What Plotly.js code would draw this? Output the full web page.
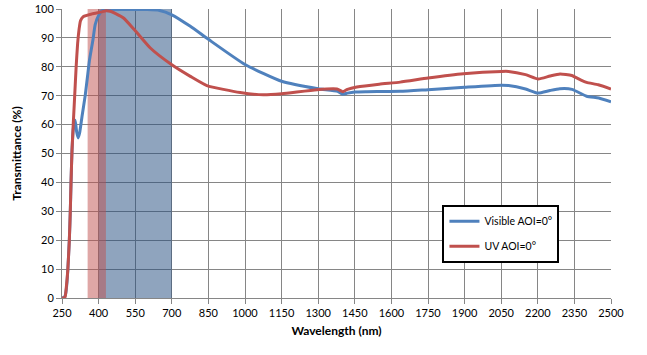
<!DOCTYPE html>
<html>
<head>
<meta charset="utf-8">
<script src="https://cdn.plot.ly/plotly-3.0.1.min.js"></script>
<style>html,body{margin:0;padding:0;background:#fff;}#chart{width:647px;height:355px;}</style>
</head>
<body>
<div id="chart"></div>
<script>
// Visible AOI=0° (blue)
const visWavelength = [250, 260, 265, 270, 274, 280, 284, 287, 291, 297, 304, 310, 316, 322, 332, 345, 355, 363, 370, 377, 386, 400, 414, 430, 500, 600, 650, 700, 776, 850, 1000, 1150, 1300, 1380, 1400, 1420, 1450, 1500, 1636, 1750, 1900, 2050, 2080, 2150, 2200, 2250, 2290, 2340, 2400, 2450, 2500];
const visTransmittance = [0, 0.3, 1.5, 5, 10, 20, 30, 40, 51, 59, 61.5, 57.5, 55.4, 57, 62.8, 70, 77, 82.5, 86, 89.4, 94.6, 97.8, 99.4, 99.7, 99.8, 99.8, 99.5, 98, 94, 89.5, 80.8, 75, 72.4, 71.5, 70.5, 70.9, 71.3, 71.4, 71.5, 72.1, 72.9, 73.6, 73.5, 72.3, 70.9, 71.8, 72.4, 72.2, 69.8, 69.2, 67.9];

// UV AOI=0° (red)
const uvWavelength = [250, 258, 263, 268, 274, 280, 284, 287, 291, 296, 302, 308, 314, 320, 326, 338, 373, 414, 430, 448, 470, 502, 547, 612, 700, 776, 844, 980, 1075, 1151, 1295, 1377, 1401, 1420, 1458, 1550, 1636, 1750, 1895, 2052, 2080, 2150, 2202, 2250, 2291, 2339, 2375, 2400, 2448, 2500];
const uvTransmittance = [0, 0, 0.5, 4, 10, 20, 30, 40, 51, 60, 70, 80, 88, 93, 96, 97.4, 98.3, 99, 99.4, 99.2, 98.4, 96.9, 92.8, 86.5, 80.7, 76.7, 73.5, 71.1, 70.3, 70.7, 72.1, 72.3, 71.4, 72.2, 73.0, 74.0, 74.7, 76.1, 77.6, 78.4, 78.4, 77.3, 75.8, 76.8, 77.5, 77.0, 75.5, 74.6, 73.8, 72.3];

// Shaded bands (wavelength ranges)
const visBand = [400, 700];
const uvBand = [355, 430];

const xTicks = [250, 400, 550, 700, 850, 1000, 1150, 1300, 1450, 1600, 1750, 1900, 2050, 2200, 2350, 2500];
const yTicks = [0, 10, 20, 30, 40, 50, 60, 70, 80, 90, 100];

const seriesNames = ['Visible AOI=0°', 'UV AOI=0°'];
const seriesColors = ['#4F81BD', '#C0504D'];

const traces = [
  {x: visWavelength, y: visTransmittance, name: seriesNames[0], type: 'scatter', mode: 'lines',
   line: {color: seriesColors[0], width: 3, shape: 'spline', smoothing: 0.5}, legendgroup: 'a'},
  {x: uvWavelength, y: uvTransmittance, name: seriesNames[1], type: 'scatter', mode: 'lines',
   line: {color: seriesColors[1], width: 3, shape: 'spline', smoothing: 0.5}, legendgroup: 'b'}
];

const layout = {
  width: 647, height: 355,
  margin: {l: 62, r: 36, t: 9, b: 57},
  paper_bgcolor: '#fff', plot_bgcolor: '#fff',
  font: {family: 'Lato, "Open Sans", sans-serif', size: 11, color: '#000'},
  showlegend: true,
  legend: {x: 0.693, y: 0.323, xanchor: 'left', yanchor: 'top', bgcolor: '#fff',
           bordercolor: '#000', borderwidth: 2, font: {size: 10.5, family: 'Lato, sans-serif'},
           traceorder: 'grouped', tracegroupgap: 6},
  xaxis: {
    range: [250, 2500], tickvals: xTicks, ticktext: xTicks.map(String),
    showgrid: true, gridcolor: '#868686', gridwidth: 1,
    showline: true, linecolor: '#868686', linewidth: 1,
    ticks: 'outside', ticklen: 5, tickcolor: '#868686',
    zeroline: false, tickfont: {size: 11},
    title: {text: 'Wavelength (nm)', font: {size: 12, family: 'Lato, sans-serif', weight: 'bold'}, standoff: 8}
  },
  yaxis: {
    range: [0, 100], tickvals: yTicks, ticktext: yTicks.map(String),
    showgrid: true, gridcolor: '#868686', gridwidth: 1,
    showline: true, linecolor: '#868686', linewidth: 1,
    ticks: 'outside', ticklen: 5, tickcolor: '#868686',
    zeroline: false, tickfont: {size: 11},
    title: {text: 'Transmittance (%)', font: {size: 12, family: 'Lato, sans-serif', weight: 'bold'}, standoff: 10}
  },
  shapes: [
    {type: 'rect', xref: 'x', yref: 'y', x0: visBand[0], x1: visBand[1], y0: 0, y1: 100,
     fillcolor: 'rgb(31,73,125)', opacity: 0.5, line: {width: 0}, layer: 'between'},
    {type: 'rect', xref: 'x', yref: 'y', x0: uvBand[0], x1: uvBand[1], y0: 0, y1: 100,
     fillcolor: 'rgb(192,80,77)', opacity: 0.5, line: {width: 0}, layer: 'between'}
  ]
};

Plotly.newPlot('chart', traces, layout, {displayModeBar: false, staticPlot: true});
</script>
</body>
</html>
